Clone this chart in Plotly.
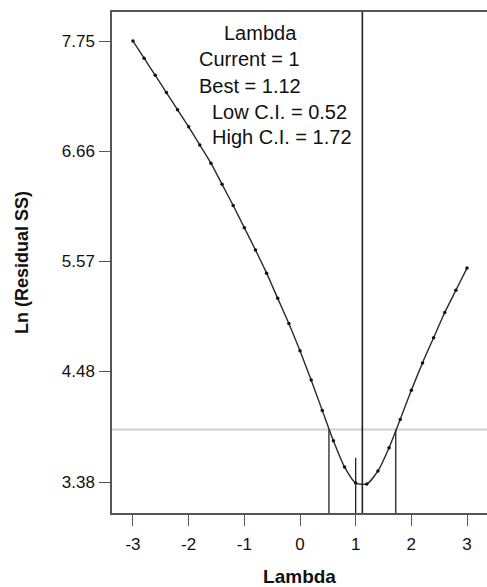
import plotly.graph_objects as go

# ---- data ----
lambdas = [-3.0, -2.8, -2.6, -2.4, -2.2, -2.0, -1.8, -1.6, -1.4, -1.2, -1.0,
           -0.8, -0.6, -0.4, -0.2, 0.0, 0.2, 0.4, 0.6, 0.8, 1.0,
           1.2, 1.4, 1.6, 1.8, 2.0, 2.2, 2.4, 2.6, 2.8, 3.0]
ln_ss = [7.75, 7.58, 7.41, 7.24, 7.07, 6.90, 6.72, 6.54, 6.33, 6.12, 5.90,
         5.68, 5.45, 5.20, 4.95, 4.68, 4.39, 4.09, 3.79, 3.53, 3.37,
         3.36, 3.49, 3.72, 4.00, 4.29, 4.56, 4.81, 5.06, 5.28, 5.50]
current_lambda = 1
best_lambda = 1.12
low_ci = 0.52
high_ci = 1.72
ci_threshold = 3.90
current_value = 3.62
x_ticks = [-3, -2, -1, 0, 1, 2, 3]
x_tick_labels = ["-3", "-2", "-1", "0", "1", "2", "3"]
y_ticks = [3.38, 4.48, 5.57, 6.66, 7.75]
y_tick_labels = ["3.38", "4.48", "5.57", "6.66", "7.75"]
info_lines = ["Lambda", "Current = 1", "Best = 1.12", "Low C.I. = 0.52", "High C.I. = 1.72"]

FONT = "Liberation Sans, Arial, sans-serif"
W, H = 487, 587
ML, MR, MT, MB = 112, 0, 12, 74

fig = go.Figure()
fig.add_trace(go.Scatter(
    x=lambdas, y=ln_ss, mode="lines+markers",
    line=dict(color="#2a2a2a", width=1.4, shape="spline", smoothing=0.6),
    marker=dict(color="#111111", size=3.5),
    showlegend=False, hoverinfo="skip"))

Y0, Y1 = 3.073, 8.038
fig.add_shape(type="line", xref="paper", yref="y", x0=0, x1=1,
              y0=ci_threshold, y1=ci_threshold,
              line=dict(color="#cfcfcf", width=2), layer="below")
fig.add_shape(type="line", xref="x", yref="paper", x0=best_lambda, x1=best_lambda,
              y0=0, y1=1, line=dict(color="#222222", width=1.6))
for v in (low_ci, high_ci):
    fig.add_shape(type="line", xref="x", yref="y", x0=v, x1=v,
                  y0=Y0, y1=ci_threshold, line=dict(color="#222222", width=1.3))
fig.add_shape(type="line", xref="x", yref="y", x0=current_lambda, x1=current_lambda,
              y0=Y0, y1=current_value, line=dict(color="#222222", width=1.3))

plot_w = W - ML - MR
plot_h = H - MT - MB
def px_to_paper_x(px):
    return (px - ML) / plot_w
def py_to_paper_y(py):
    return 1 - (py - MT) / plot_h

text_pos = [(260, 33, "center"), (197, 59, "left"), (197, 86, "left"),
            (210, 112, "left"), (210, 137, "left")]
for (px, py, anc), txt in zip(text_pos, info_lines):
    fig.add_annotation(xref="paper", yref="paper",
                       x=px_to_paper_x(px), y=py_to_paper_y(py),
                       text=txt, showarrow=False, xanchor=anc, yanchor="middle",
                       font=dict(family=FONT, size=20, color="#111111"))

fig.update_layout(
    width=W, height=H,
    margin=dict(l=ML, r=MR, t=MT, b=MB, pad=0, autoexpand=False),
    paper_bgcolor="white", plot_bgcolor="white",
    font=dict(family=FONT, color="#111111"),
    xaxis=dict(range=[-3.377, 3.359], tickvals=x_ticks, ticktext=x_tick_labels,
               automargin=False,
               ticks="outside", ticklen=11, tickwidth=1.3, tickcolor="#555555",
               ticklabelstandoff=4,
               showline=True, linecolor="#555555", linewidth=1.5, mirror=True,
               showgrid=False, zeroline=False,
               tickfont=dict(family=FONT, size=17, color="#111111"),
               title=dict(text="<b>Lambda</b>", standoff=18,
                          font=dict(family=FONT, size=19, color="#111111"))),
    yaxis=dict(range=[Y0, Y1], tickvals=y_ticks, ticktext=y_tick_labels,
               automargin=False,
               ticks="outside", ticklen=11, tickwidth=1.3, tickcolor="#555555",
               ticklabelstandoff=1,
               showline=True, linecolor="#555555", linewidth=1.5,
               showgrid=False, zeroline=False,
               tickfont=dict(family=FONT, size=17, color="#111111"),
               title=dict(text="<b>Ln (Residual SS)</b>", standoff=28,
                          font=dict(family=FONT, size=18, color="#111111"))),
)

fig.write_html("out.html",
               config={"displayModeBar": False},
               post_script="document.body.style.margin='0px';"
                           "document.body.style.overflow='hidden';"
                           "document.documentElement.style.overflow='hidden';")
